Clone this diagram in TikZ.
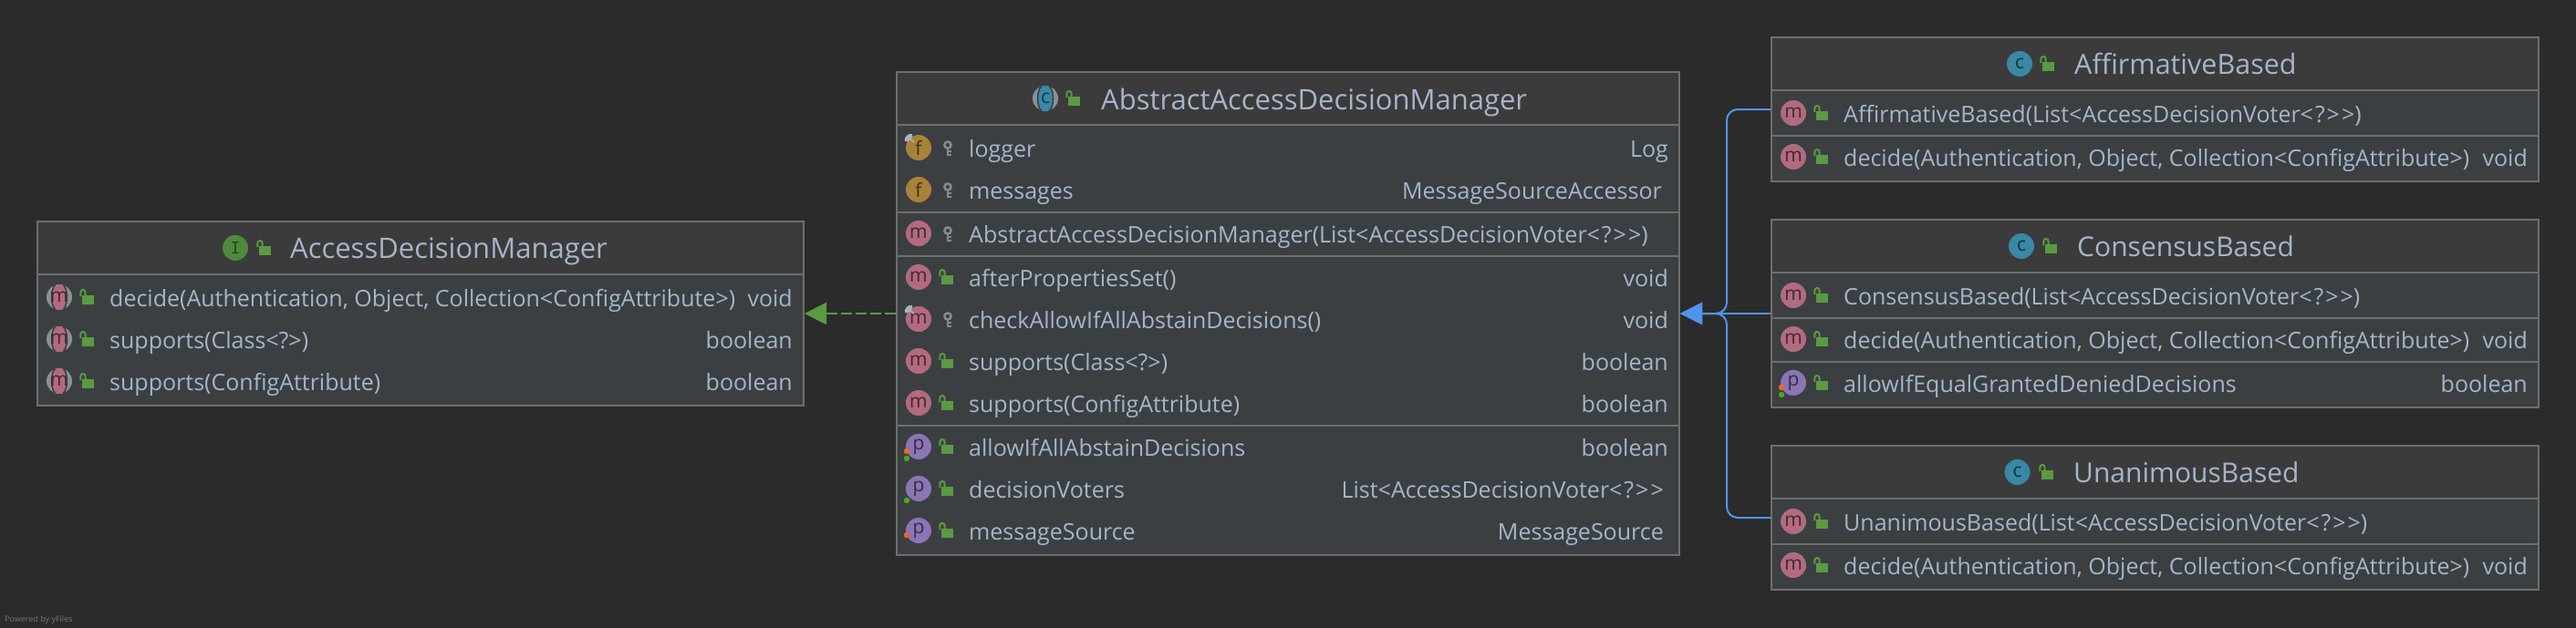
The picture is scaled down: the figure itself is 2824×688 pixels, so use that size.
\documentclass[tikz,border=0pt]{standalone}
\usepackage{fontspec}
\usepackage{xcolor}
\usetikzlibrary{arrows.meta,positioning}
\setmainfont{Open Sans}

\definecolor{pageBg}{HTML}{2B2B2B}
\definecolor{headBg}{HTML}{3C3B3B}
\definecolor{bodyBg}{HTML}{3C3F41}
\definecolor{edgeGrey}{HTML}{6E6E6E}
\definecolor{labelBlue}{HTML}{A3B6CC}
\definecolor{lockGreen}{HTML}{5A9A42}
\definecolor{arrowGreen}{HTML}{5A9A42}
\definecolor{arrowBlue}{HTML}{5094F0}
\definecolor{keyGrey}{HTML}{7F8B91}
\definecolor{methodRed}{HTML}{B26B7E}
\definecolor{fieldGold}{HTML}{A9823A}
\definecolor{propPurple}{HTML}{8A75B5}
\definecolor{classTeal}{HTML}{3A87A6}
\definecolor{faceGreen}{HTML}{4F8A3C}
\definecolor{absGrey}{HTML}{8A9197}
\definecolor{pinGrey}{HTML}{A9B4BC}
\definecolor{dotOrange}{HTML}{E8682A}
\definecolor{dotGreen}{HTML}{4EA61E}

\newcommand{\memberrow}[7]{%
  \coordinate (#2Row) at (#1.west |- 0,#3);
  \coordinate (#2End) at (#1.east |- 0,#3);
  \node (#2Icon) at ([xshift=25pt]#2Row) [#4];
  \pic at ([xshift=55pt]#2Row) {#5};
  \node[memberlabel] (#2Label) at ([xshift=80pt,yshift=-10.5pt]#2Row) {#6};
  \node[membertype] (#2Type) at ([xshift=-13pt,yshift=-10.5pt]#2End) {#7};
}
\newcommand{\rowsep}[2]{\draw[sepline] (#1.west |- 0,#2) -- (#1.east |- 0,#2);}
\newcommand{\wild}{<\kern2pt?\kern2pt>\kern2pt>}

\begin{document}
\begin{tikzpicture}[
    x=1pt, y=-1pt,
    classbox/.style={rectangle, draw=edgeGrey, line width=2pt, fill=bodyBg, inner sep=0pt},
    classhead/.style={classbox, fill=headBg, minimum height=58pt, anchor=north},
    classtitle/.style={anchor=base west, inner sep=0pt, text=labelBlue, font=\fontsize{#1}{#1}\selectfont},
    classtitle/.default=31,
    memberlabel/.style={anchor=base west, inner sep=0pt, text=labelBlue, font=\fontsize{25}{25}\selectfont},
    membertype/.style={anchor=base east, inner sep=0pt, text=labelBlue, font=\fontsize{25}{25}\selectfont},
    sepline/.style={draw=edgeGrey, line width=2pt},
    icon/.style={circle, fill=#1, minimum size=28pt, inner sep=0pt, text=black!62!#1, font=\fontsize{21}{21}\selectfont},
    absicon/.style={icon=absGrey, text=black!62!#1, path picture={\filldraw[fill=#1, draw=headBg, line width=1.5pt] (path picture bounding box.center) ellipse (8.5 and 16);}},
    iconm/.style={icon=methodRed, node contents={m}},
    iconf/.style={icon=fieldGold, node contents={f}},
    iconp/.style={icon=propPurple, node contents={p}},
    iconc/.style={icon=classTeal, node contents={c}},
    iconi/.style={icon=faceGreen, node contents={\ttfamily I}},
    absm/.style={absicon=methodRed, node contents={m}},
    absc/.style={absicon=classTeal, node contents={c}},
    marker/.style={circle, fill=#1, minimum size=6.5pt, inner sep=0pt},
    realizes/.style={-{Triangle[length=24pt,width=24pt]}, arrowGreen, line width=2pt, dash pattern=on 12pt off 4pt},
    extends/.style={-{Triangle[length=24pt,width=24pt]}, arrowBlue, line width=2pt, rounded corners=12pt},
    pubLock/.pic={
        \fill[lockGreen] (-4.7,-2.3) rectangle (8,7.7);
        \draw[lockGreen, line width=2pt] (-6.7,-1) -- (-6.7,-5) .. controls (-6.7,-9) and (-1.3,-9) .. (-1.3,-5) -- (-1.3,-2);
    },
    privKey/.pic={
        \draw[keyGrey, line width=2.5pt] (2,-3) circle (3.6);
        \draw[keyGrey, line width=2.5pt] (2,0.5) -- (2,9) (2,4) -- (6,4) (2,8) -- (6,8);
    },
    staticPin/.pic={
        \draw[pinGrey, line width=1.5pt] (-10,-10) -- (-5,-6);
        \fill[pinGrey, shift={(-11,-11)}, rotate=45] (0,0) ellipse (5.5 and 3);
    }
]

% Page
\useasboundingbox (0,0) rectangle (2824,688);
\fill[pageBg] (-2,-2) rectangle (2826,690);

% Class boxes
\node[classbox, minimum width=840pt, minimum height=202pt] (adm) at (461,344) {};
\node[classbox, minimum width=858pt, minimum height=530pt] (abs) at (1412,344) {};
\node[classbox, minimum width=841pt, minimum height=158pt] (aff) at (2362.5,120) {};
\node[classbox, minimum width=841pt, minimum height=206pt, below=40pt of aff] (cons) {};
\node[classbox, minimum width=841pt, minimum height=158pt, below=40pt of cons] (unan) {};

% Headers
\node[classhead, minimum width=840pt] (admHead) at (adm.north) {};
\node[classhead, minimum width=858pt] (absHead) at (abs.north) {};
\node[classhead, minimum width=841pt] (affHead) at (aff.north) {};
\node[classhead, minimum width=841pt] (consHead) at (cons.north) {};
\node[classhead, minimum width=841pt] (unanHead) at (unan.north) {};

% Titles
\node[classtitle] (admTitle) at (318,283.5) {AccessDecisionManager};
\node (admIcon) at (258,272) [iconi];
\pic at (289,272) {pubLock};
\node[classtitle] (absTitle) at (1207,120) {AbstractAccessDecisionManager};
\node (absIcon) at (1146,108) [absc];
\pic at (1176,108) {pubLock};
\node[classtitle=30.5] (affTitle) at (2274,81.5) {AffirmativeBased};
\node (affIcon) at (2214,70) [iconc];
\pic at (2244,70) {pubLock};
\node[classtitle=30] (consTitle) at (2277,281.5) {ConsensusBased};
\node (consIcon) at (2216,270) [iconc];
\pic at (2247,270) {pubLock};
\node[classtitle=30] (unanTitle) at (2273,529.5) {UnanimousBased};
\node (unanIcon) at (2211.5,518) [iconc];
\pic at (2243,518) {pubLock};

% AccessDecisionManager
\memberrow{adm}{admDecide}{326}{absm}{pubLock}{decide(Authentication, Object, Collection<ConfigAttribute>)}{void}
\memberrow{adm}{admClass}{372}{absm}{pubLock}{supports(Class<?>)}{boolean}
\memberrow{adm}{admAttr}{418}{absm}{pubLock}{supports(ConfigAttribute)}{boolean}

% AbstractAccessDecisionManager
\memberrow{abs}{absLogger}{162}{iconf}{privKey}{logger}{Log}
\memberrow{abs}{absMessages}{208}{iconf}{privKey}{messages}{MessageSourceAccessor\kern7pt}
\rowsep{abs}{233}
\memberrow{abs}{absCtor}{256}{iconm}{privKey}{AbstractAccessDecisionManager(List<AccessDecisionVoter\wild)}{}
\rowsep{abs}{281}
\memberrow{abs}{absAfter}{304}{iconm}{pubLock}{afterPropertiesSet()}{void}
\memberrow{abs}{absCheck}{350}{iconm}{privKey}{checkAllowIfAllAbstainDecisions()}{void}
\memberrow{abs}{absClass}{396}{iconm}{pubLock}{supports(Class<?>)}{boolean}
\memberrow{abs}{absAttr}{442}{iconm}{pubLock}{supports(ConfigAttribute)}{boolean}
\rowsep{abs}{467}
\memberrow{abs}{absAllow}{490}{iconp}{pubLock}{allowIfAllAbstainDecisions}{boolean}
\memberrow{abs}{absVoters}{536}{iconp}{pubLock}{decisionVoters}{List<AccessDecisionVoter\wild\kern5pt}
\memberrow{abs}{absSource}{582}{iconp}{pubLock}{messageSource}{MessageSource\kern5pt}

% AffirmativeBased
\memberrow{aff}{affCtor}{124}{iconm}{pubLock}{AffirmativeBased(List<AccessDecisionVoter\wild)}{}
\rowsep{aff}{149}
\memberrow{aff}{affDecide}{172}{iconm}{pubLock}{decide(Authentication, Object, Collection<ConfigAttribute>)}{void}

% ConsensusBased
\memberrow{cons}{consCtor}{324}{iconm}{pubLock}{ConsensusBased(List<AccessDecisionVoter\wild)}{}
\rowsep{cons}{349}
\memberrow{cons}{consDecide}{372}{iconm}{pubLock}{decide(Authentication, Object, Collection<ConfigAttribute>)}{void}
\rowsep{cons}{397}
\memberrow{cons}{consEqual}{420}{iconp}{pubLock}{allowIfEqualGrantedDeniedDecisions}{boolean}

% UnanimousBased
\memberrow{unan}{unanCtor}{572}{iconm}{pubLock}{UnanimousBased(List<AccessDecisionVoter\wild)}{}
\rowsep{unan}{597}
\memberrow{unan}{unanDecide}{620}{iconm}{pubLock}{decide(Authentication, Object, Collection<ConfigAttribute>)}{void}

% Markers
\pic at (absLoggerIcon.center) {staticPin};
\pic at (absCheckIcon.center) {staticPin};
\node[marker=dotOrange] (absAllowRead) at ([shift={(-13,5)}]absAllowIcon.center) {};
\node[marker=dotGreen] (absAllowWrite) at ([shift={(-13,13)}]absAllowIcon.center) {};
\node[marker=dotGreen] (absVotersWrite) at ([shift={(-13,13)}]absVotersIcon.center) {};
\node[marker=dotOrange] (absSourceRead) at ([shift={(-13,5)}]absSourceIcon.center) {};
\node[marker=dotOrange] (consEqualRead) at ([shift={(-13,5)}]consEqualIcon.center) {};
\node[marker=dotGreen] (consEqualWrite) at ([shift={(-13,13)}]consEqualIcon.center) {};

% Arrows
\coordinate (busJoin) at (1893,344);
\draw[realizes] (abs.west) -- (adm.east);
\draw[extends] (aff.west) -| (busJoin) -- (abs.east);
\draw[extends] (unan.west) -| (busJoin) -- (abs.east);
\draw[extends] (cons.west) -- (abs.east);

% Footer
\node[anchor=base west, inner sep=0pt, text=white!35!pageBg, font=\fontsize{9}{9}\selectfont] (poweredBy) at (5,682) {Powered by yFiles};

\end{tikzpicture}
\end{document}
